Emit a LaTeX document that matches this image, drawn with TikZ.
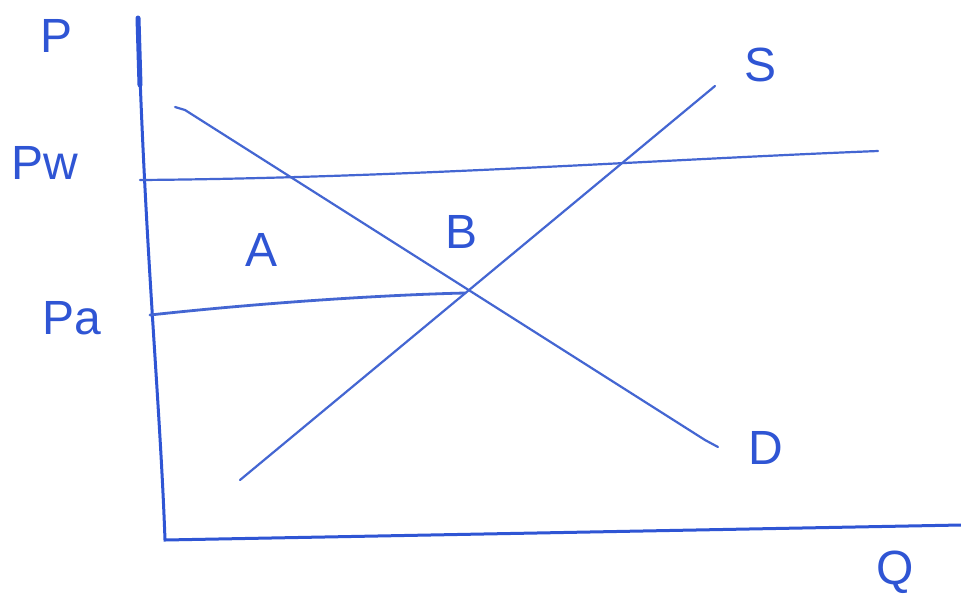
\documentclass[tikz,border=0pt]{standalone}
\usepackage{fontspec}
\setmainfont{Liberation Sans}
\definecolor{PenBlue} {HTML}{2F55D4}
\definecolor{LineBlue}{HTML}{4466D2}
\usetikzlibrary{positioning}
\tikzset{
  pen/.style={draw=LineBlue,line width=2.2pt,line cap=round,line join=round},
  axisline/.style={draw=PenBlue,line width=3pt,line cap=round},
  hand/.style={text=PenBlue,font=\fontsize{48}{52}\selectfont,inner sep=0pt}
}
\begin{document}
\begin{tikzpicture}[x=1pt,y=-1pt]
  \useasboundingbox[fill=white] (0,0) rectangle (961,606);
  % Axes
  \coordinate (Ptop) at (138,18);
  \coordinate (Orig) at (165,540);
  \coordinate (Qend) at (961,525);
  \draw[axisline] (Ptop) .. controls (145,250) and (160,400) .. (Orig) -- (Qend);
  \draw[axisline,line width=5pt] (Ptop) -- (140,85);
  % Price lines
  \coordinate (PwL) at (140,180);
  \coordinate (PwR) at (878,151);
  \coordinate (PaL) at (150,315);
  \coordinate (PaR) at (465,293);
  \draw[pen] (PwL) .. controls (400,178) and (650,160) .. (PwR);
  \draw[pen,line width=2.8pt] (PaL) .. controls (260,303) and (380,295) .. (PaR);
  % Demand and supply
  \coordinate (Dtop) at (175,107);
  \coordinate (Dend) at (718,447);
  \coordinate (Sbot) at (240,480);
  \coordinate (Stop) at (715,86);
  \draw[pen] (Dtop) -- (185,110) -- (705,440) -- (Dend);
  \draw[pen] (Sbot) -- (Stop);
  % Labels
  \node[hand] (P)  at (57,36)   {P};
  \node[hand] (Pw) at (45,163)  {Pw};
  \node[hand] (Pa) at (72,318)  {Pa};
  \node[hand] (A)  at (262,250) {A};
  \node[hand] (B)  at (462,232) {B};
  \node[hand] (S)  at (760,65)  {S};
  \node[hand] (D)  at (766,448) {D};
  \node[hand] (Q)  at (895,572) {Q};
\end{tikzpicture}
\end{document}
